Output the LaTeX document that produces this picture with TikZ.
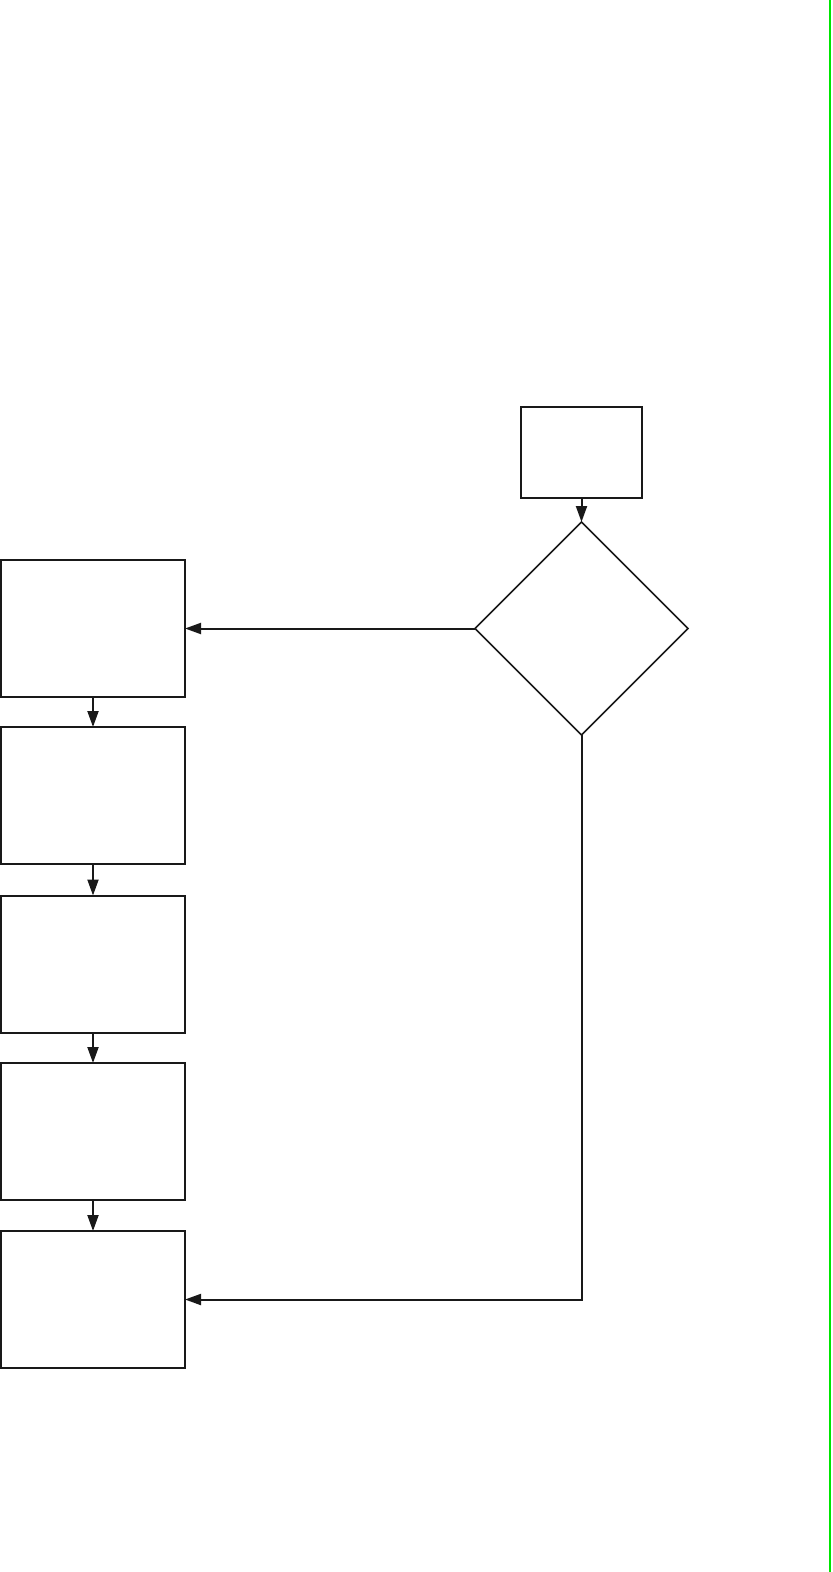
\documentclass[tikz,border=0pt]{standalone}
\usetikzlibrary{shapes.geometric,arrows.meta}
\begin{document}
\begin{tikzpicture}[x=1bp,y=-1bp,
  box/.style={draw=black!90,line width=2bp,minimum width=184bp,minimum height=137bp,inner sep=0pt,outer sep=0pt},
  topbox/.style={draw=black!90,line width=2bp,minimum width=121bp,minimum height=91bp,inner sep=0pt,outer sep=0pt},
  dec/.style={draw=black!90,line width=1.6bp,diamond,minimum width=213bp,minimum height=213bp,inner sep=0pt,outer sep=0pt},
  conn/.style={draw=black!90,line width=2bp,-{Triangle[length=16bp,width=11bp]}}]
\useasboundingbox (0,0) rectangle (832,1572);
\fill[white] (0,0) rectangle (832,1572);
\draw[green!90!black,line width=2.5bp] (830,0) -- (830,1572);
\node[topbox] (start) at (581.5,452.5) {};
\node[dec] (d) at (581.5,628.5) {};
\node[box] (b1) at (93,628.5) {};
\node[box] (b2) at (93,795.5) {};
\node[box] (b3) at (93,964) {};
\node[box] (b4) at (93,1131.5) {};
\node[box] (b5) at (93,1299.5) {};
\draw[conn] (start.south) -- (d.north);
\draw[conn] (d.west) -- (b1.east);
\draw[conn] (b1.south) -- (b2.north);
\draw[conn] (b2.south) -- (b3.north);
\draw[conn] (b3.south) -- (b4.north);
\draw[conn] (b4.south) -- (b5.north);
\draw[conn] (d.south) |- (b5.east);
\end{tikzpicture}
\end{document}
